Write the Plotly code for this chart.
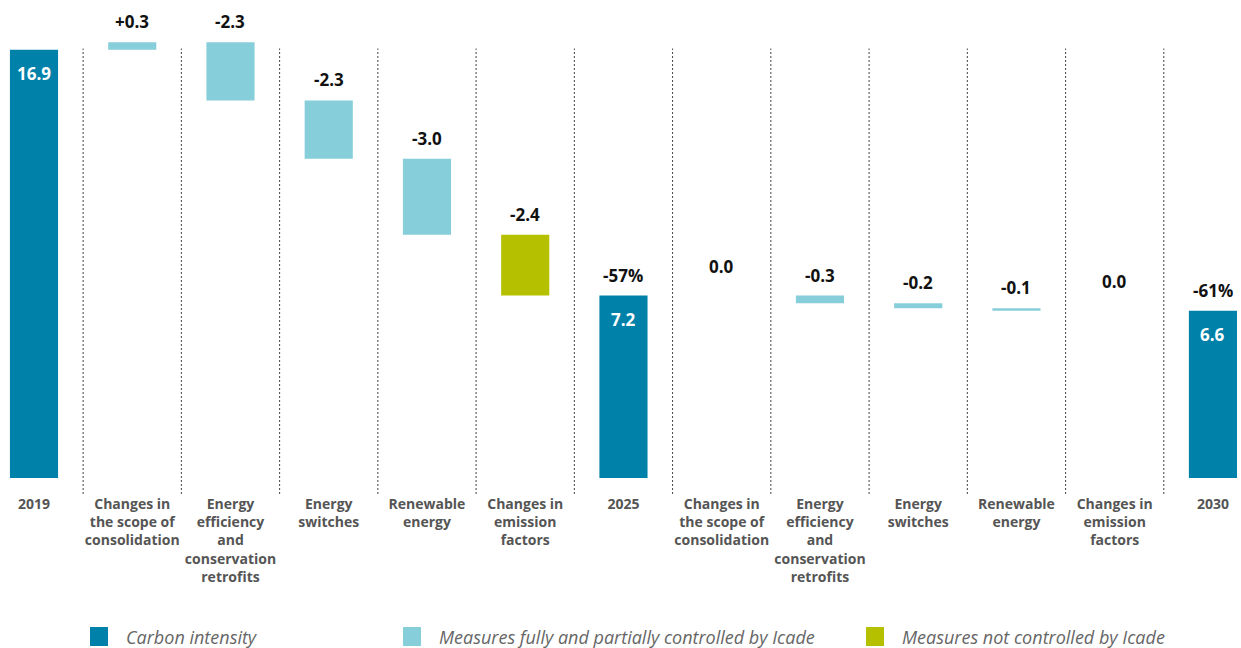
import plotly.graph_objects as go

# ---------------- data ----------------
categories = [
    "2019",
    "Changes in<br>the scope of<br>consolidation",
    "Energy<br>efficiency<br>and<br>conservation<br>retrofits",
    "Energy<br>switches",
    "Renewable<br>energy",
    "Changes in<br>emission<br>factors",
    "2025",
    "Changes in<br>the scope of<br>consolidation",
    "Energy<br>efficiency<br>and<br>conservation<br>retrofits",
    "Energy<br>switches",
    "Renewable<br>energy",
    "Changes in<br>emission<br>factors",
    "2030",
]
values = [16.9, 0.3, -2.3, -2.3, -3.0, -2.4, 7.2, 0.0, -0.3, -0.2, -0.1, 0.0, 6.6]
kinds = ["total", "controlled", "controlled", "controlled", "controlled", "not_controlled",
         "total", "controlled", "controlled", "controlled", "controlled", "not_controlled",
         "total"]
pct_labels = ["", "", "", "", "", "", "-57%", "", "", "", "", "", "-61%"]

legend_names = {
    "total": "Carbon intensity",
    "controlled": "Measures fully and partially controlled by Icade",
    "not_controlled": "Measures not controlled by Icade",
}

# ---------------- style ----------------
colors = {"total": "#0081A9", "controlled": "#87CEDB", "not_controlled": "#B5C100"}
W, H = 1241, 648
M_L, M_R, M_T, M_B = 0, 3, 10, 154
Y_MIN, Y_MAX = -0.63, 18.47
X_MIN, X_MAX = -0.346, 12.255
BAR_W = 0.49

# ---------------- compute waterfall geometry ----------------
bases, heights = [], []
level = 0.0
for v, k in zip(values, kinds):
    if k == "total":
        bases.append(0.0)
        heights.append(v)
        level = v
    else:
        new = level + v
        bases.append(min(level, new))
        heights.append(abs(v))
        level = new

fig = go.Figure()
xs = list(range(len(values)))
for k in ["total", "controlled", "not_controlled"]:
    idx = [i for i in xs if kinds[i] == k]
    fig.add_trace(go.Bar(
        x=[xs[i] for i in idx],
        y=[heights[i] for i in idx],
        base=[bases[i] for i in idx],
        width=BAR_W,
        marker=dict(color=colors[k], line=dict(width=0)),
        name=legend_names[k],
        showlegend=False,
        hoverinfo="skip",
    ))

# value labels
label_font = dict(family="Open Sans", size=17, color="#111111")
for i, (v, k) in enumerate(zip(values, kinds)):
    top = bases[i] + heights[i]
    if k == "total":
        fig.add_annotation(x=i, y=top, text=f"<b>{v:.1f}</b>", showarrow=False,
                           yanchor="top", yshift=-10,
                           font=dict(family="Open Sans", size=17, color="white"))
        if pct_labels[i]:
            fig.add_annotation(x=i, y=top, text=f"<b>{pct_labels[i]}</b>", showarrow=False,
                               yanchor="bottom", yshift=7, font=label_font)
    else:
        txt = "0.0" if v == 0 else f"{v:+.1f}"
        fig.add_annotation(x=i, y=top, text=f"<b>{txt}</b>", showarrow=False,
                           yanchor="bottom", yshift=(16 if v == 0 else 7), font=label_font)

# dotted separators between columns
for i in range(len(values) - 1):
    fig.add_shape(type="line", xref="x", yref="y",
                  x0=i + 0.5, x1=i + 0.5, y0=Y_MIN, y1=values[0] + 0.05,
                  line=dict(color="#444444", width=1, dash="2px,2px"))

# custom legend (squares + italic text)
plot_w = W - M_L - M_R
plot_h = H - M_T - M_B
def px_x(px):
    return (px - M_L) / plot_w
def px_y(py):
    return (H - M_B - py) / plot_h

legend_pos = {"total": 90, "controlled": 403, "not_controlled": 866}
for k in ["total", "controlled", "not_controlled"]:
    x0 = legend_pos[k]
    fig.add_shape(type="rect", xref="paper", yref="paper",
                  x0=px_x(x0), x1=px_x(x0 + 18), y0=px_y(646), y1=px_y(627),
                  fillcolor=colors[k], line=dict(width=0))
    fig.add_annotation(xref="paper", yref="paper", x=px_x(x0 + 34), y=px_y(636.5),
                       text=f"<i>{legend_names[k]}</i>", showarrow=False,
                       xanchor="left", yanchor="middle",
                       font=dict(family="Open Sans", size=18, color="#666666"))

fig.update_layout(
    width=W, height=H,
    margin=dict(l=M_L, r=M_R, t=M_T, b=M_B),
    plot_bgcolor="white", paper_bgcolor="white",
    barmode="overlay",
    showlegend=False,
    xaxis=dict(range=[X_MIN, X_MAX], tickmode="array", tickvals=xs,
               ticktext=[f"<b>{c}</b>" for c in categories],
               showgrid=False, zeroline=False, showline=False, ticks="",
               tickfont=dict(family="Open Sans", size=14, color="#555555")),
    yaxis=dict(range=[Y_MIN, Y_MAX], visible=False, showgrid=False, zeroline=False),
)

fig.write_html("out.html", config={"displayModeBar": False})

# remove default page margin so the figure fills the window exactly
with open("out.html", "r", encoding="utf-8") as f:
    html = f.read()
html = html.replace("<head>", "<head><style>html,body{margin:0;padding:0;overflow:hidden;}</style>", 1)
with open("out.html", "w", encoding="utf-8") as f:
    f.write(html)
